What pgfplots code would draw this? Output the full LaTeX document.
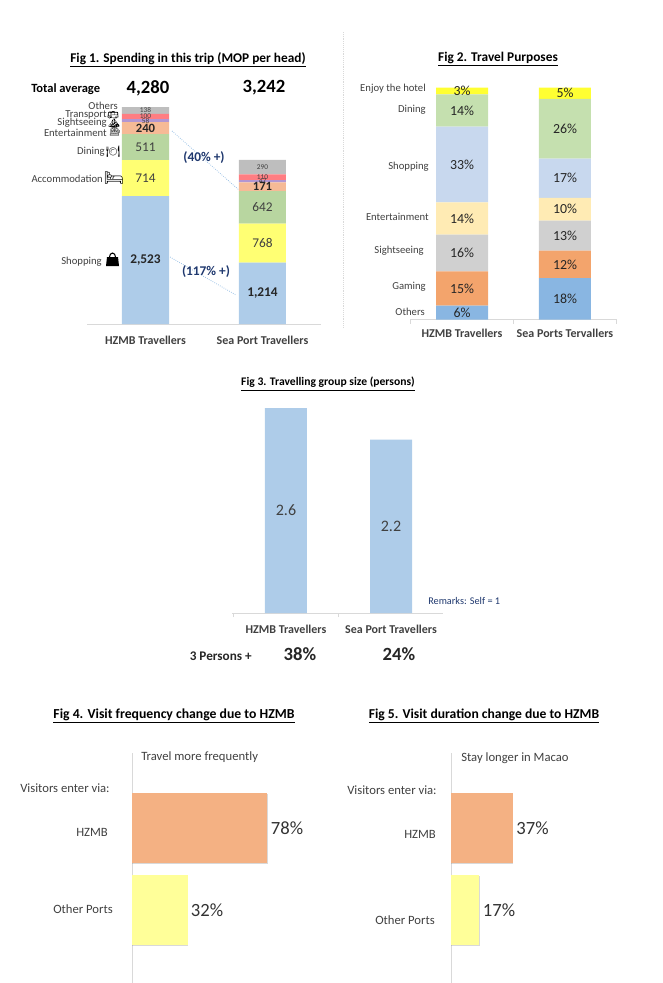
\documentclass[border=0pt]{standalone}
\usepackage{fontspec}
\setmainfont{Carlito}
\newfontfamily\emoji{Noto Emoji}
\usepackage{pgfplots}
\pgfplotsset{compat=1.18}
\usetikzlibrary{shadows}

\definecolor{axisgray}{RGB}{217,217,217}
\definecolor{labelgray}{RGB}{64,64,64}
\definecolor{navy}{RGB}{31,56,110}
\definecolor{blueA}{RGB}{174,204,233}
\definecolor{yellowA}{RGB}{255,255,115}
\definecolor{greenA}{RGB}{184,214,160}
\definecolor{orangeA}{RGB}{246,186,150}
\definecolor{purpleA}{RGB}{178,150,210}
\definecolor{redA}{RGB}{255,125,130}
\definecolor{grayA}{RGB}{190,190,190}
\definecolor{blueB}{RGB}{137,182,226}
\definecolor{orangeB}{RGB}{243,164,108}
\definecolor{grayB}{RGB}{208,208,208}
\definecolor{creamB}{RGB}{255,235,180}
\definecolor{paleB}{RGB}{200,216,238}
\definecolor{greenB}{RGB}{197,224,175}
\definecolor{yellowB}{RGB}{255,255,50}
\definecolor{orangeC}{RGB}{244,177,131}
\definecolor{yellowC}{RGB}{255,255,153}
\definecolor{dotblue}{RGB}{157,195,230}

\pgfkeys{/pgf/number format/.cd,1000 sep={,},assume math mode=true}

\pgfplotsset{
  base/.style={
    scale only axis,
    anchor=south west,
    axis y line=none,
    axis x line*=bottom,
    axis line style={axisgray,-},
    xtick=data,
    tick align=outside,
    major tick length=0pt,
    x tick label style={font=\fontsize{9}{9}\selectfont\bfseries,text=labelgray},
    ymin=0,
    xmin=-0.5, xmax=1.5,
    clip=false,
  },
  stackbars/.style={
    base,
    ybar stacked,
    visualization depends on={rawy \as \rawy},
    point meta=rawy,
    nodes near coords,
    nodes near coords style={anchor=center},
  },
  seg/.style n args={3}{
    fill=#1, draw=none,
    nodes near coords style={font=\fontsize{#2}{#2}\selectfont#3},
  },
  sidebars/.style={
    scale only axis,
    anchor=south west,
    xbar,
    bar shift=0pt,
    bar width=52.5pt,
    axis x line=none,
    axis y line*=left,
    axis line style={axisgray,-},
    ytick=\empty,
    xmin=0,
    ymin=-0.879, ymax=1.909,
    clip=false,
    nodes near coords={\pgfmathprintnumber{\pgfplotspointmeta}\%},
    nodes near coords style={font=\fontsize{14}{14}\selectfont,text=black!80,xshift=-1pt},
    point meta=x,
  },
  boxshadow/.style={drop shadow={shadow xshift=0.25pt,shadow yshift=-0.6pt,fill=gray,opacity=0.3}},
  darktext/.style={nodes near coords style={text=black!85}},
  graytext/.style={nodes near coords style={text=labelgray}},
}

\begin{document}
\begin{tikzpicture}[x=0.75pt,y=-0.75pt]
\useasboundingbox (0,0) rectangle (662,983);

% divider between fig 1 and 2
\draw[axisgray,densely dotted] (343,32) -- (343,327);

% Fig 1
\draw[dotblue,densely dotted,line width=0.6pt] (172,131) -- (239,190);
\draw[dotblue,densely dotted,line width=0.6pt] (170,257) -- (236,295);
\begin{axis}[stackbars, at={(87*0.75pt,-324*0.75pt)}, width=175.5pt, height=162.75pt,
  ymax=4284, bar width=35.25pt, xticklabels={HZMB Travellers,Sea Port Travellers},
  xticklabel style={yshift=-5.5pt}]
\addplot+[seg={blueA}{10}{\bfseries},darktext] coordinates {(0,2523) (1,1214)};
\addplot+[seg={yellowA}{10}{},graytext] coordinates {(0,714) (1,768)};
\addplot+[seg={greenA}{10}{},graytext] coordinates {(0,511) (1,642)};
\addplot+[seg={orangeA}{9.5}{\bfseries},darktext] coordinates {(0,240) (1,171)};
\addplot+[seg={purpleA}{5.5}{},graytext] coordinates {(0,58) (1,47)};
\addplot+[seg={redA}{5.5}{},graytext] coordinates {(0,100) (1,110)};
\addplot+[seg={grayA}{5.5}{},graytext] coordinates {(0,138) (1,290)};
\end{axis}

\node[font=\fontsize{10}{10}\selectfont\bfseries] at (188,60) {\underline{Fig 1. Spending in this trip (MOP per head)}};
\node[font=\fontsize{9.4}{9.4}\selectfont\bfseries,anchor=west,inner sep=0pt] at (31,89) {Total average};
\node[font=\fontsize{14}{14}\selectfont\bfseries] at (148,88) {4,280};
\node[font=\fontsize{14}{14}\selectfont\bfseries] at (264,88) {3,242};
\node[font=\fontsize{10}{10}\selectfont\bfseries,text=navy] at (204,158) {(40\% +)};
\node[font=\fontsize{10}{10}\selectfont\bfseries,text=navy] at (206,272) {(117\% +)};
\begin{scope}[font=\fontsize{8}{8}\selectfont,text=labelgray,every node/.style={anchor=east,inner sep=0pt}]
  \node at (118,106) {Others};
  \node at (107,115) {Transport};
  \node at (107,123) {Sightseeing};
  \node at (107,133) {Entertainment};
  \node at (105,152) {Dining};
  \node at (103,179) {Accommodation};
  \node at (102,262) {Shopping};
\end{scope}
\begin{scope}[every node/.style={inner sep=0pt,text=black}]
  \node[font=\emoji\fontsize{7}{7}\selectfont] at (113,115) {🚌};
  \node[font=\emoji\fontsize{7}{7}\selectfont] at (114,123) {⛰};
  \node[font=\emoji\fontsize{7}{7}\selectfont] at (115,131) {🎰};
  \node[font=\emoji\fontsize{8.5}{8.5}\selectfont] at (113,152) {🍽};
  \node[font=\emoji\fontsize{12}{12}\selectfont] at (114,178) {🛏};
  \fill (106,266) -- (107,257) -- (118,257) -- (119,266) -- cycle;
  \draw[line width=0.8pt] (109.5,257) arc[start angle=180,end angle=360,x radius=3,y radius=4];
\end{scope}

% Fig 2
\begin{axis}[stackbars, at={(410*0.75pt,-319.5*0.75pt)}, width=155.25pt, height=174pt,
  ymax=101, bar width=39pt, xmin=-0.505, xmax=1.505,
  xticklabels={HZMB Travellers,Sea Ports Tervallers},
  xticklabel style={yshift=-4pt},
  minor xtick={-0.5,0.5,1.5}, minor tick length=3pt, minor x tick style={axisgray},
  nodes near coords={\pgfmathprintnumber{\rawy}\%}]
\addplot+[seg={blueB}{10.4}{},darktext] coordinates {(0,6) (1,18)};
\addplot+[seg={orangeB}{10.4}{},darktext] coordinates {(0,15) (1,12)};
\addplot+[seg={grayB}{10.4}{},darktext] coordinates {(0,16) (1,13)};
\addplot+[seg={creamB}{10.4}{},darktext] coordinates {(0,14) (1,10)};
\addplot+[seg={paleB}{10.4}{},darktext] coordinates {(0,33) (1,17)};
\addplot+[seg={greenB}{10.4}{},darktext] coordinates {(0,14) (1,26)};
\addplot+[seg={yellowB}{10.4}{},darktext] coordinates {(0,3) (1,5)};
\end{axis}

\node[font=\fontsize{10}{10}\selectfont\bfseries] at (498,59) {\underline{Fig 2. Travel Purposes}};
\begin{scope}[font=\fontsize{8}{8}\selectfont,text=labelgray,every node/.style={anchor=east,inner sep=0pt}]
  \node at (426,89) {Enjoy the hotel};
  \node at (426,110) {Dining};
  \node at (429,167) {Shopping};
  \node at (429,217) {Entertainment};
  \node at (424,251) {Sightseeing};
  \node at (426,287) {Gaming};
  \node at (425,312) {Others};
\end{scope}

% Fig 3
\begin{axis}[stackbars, at={(232*0.75pt,-613*0.75pt)}, width=158.25pt, height=153.75pt,
  ymax=2.6, bar width=31.5pt, xmin=-0.514, xmax=1.495,
  xticklabels={HZMB Travellers,Sea Port Travellers},
  xticklabel style={yshift=-5.5pt},
  minor xtick={-0.5,0.5,1.5}, minor tick length=3pt, minor x tick style={axisgray}]
\addplot+[seg={blueA}{12}{},graytext] coordinates {(0,2.6) (1,2.2)};
\end{axis}

\node[font=\fontsize{8.7}{8.7}\selectfont\bfseries] at (328,384) {\underline{Fig 3. Travelling group size (persons)}};
\node[font=\fontsize{7.7}{7.7}\selectfont,text=navy,anchor=west,inner sep=0pt] at (428,601) {Remarks: Self = 1};
\node[font=\fontsize{9.9}{9.9}\selectfont\bfseries,text=black!85,anchor=east,inner sep=0pt] at (252,656) {3 Persons +};
\node[font=\fontsize{14}{14}\selectfont\bfseries,text=black!85] at (300,654) {38\%};
\node[font=\fontsize{14}{14}\selectfont\bfseries,text=black!85] at (399,654) {24\%};

% Fig 4
\begin{axis}[sidebars, at={(132*0.75pt,-983*0.75pt)}, width=101.6pt, height=172.5pt, xmax=78]
\addplot+[fill=orangeC,draw=none,boxshadow] coordinates {(78,1)};
\addplot+[fill=yellowC,draw=none,boxshadow] coordinates {(32,0)};
\end{axis}

\node[font=\fontsize{10.3}{10.3}\selectfont\bfseries] at (174,716) {\underline{Fig 4. Visit frequency change due to HZMB}};
\begin{scope}[font=\fontsize{9.5}{9.5}\selectfont,text=labelgray,every node/.style={anchor=west,inner sep=0pt}]
  \node at (141,757) {Travel more frequently};
  \node at (20,788) {Visitors enter via:};
  \node at (76,832) {HZMB};
  \node at (53,909) {Other Ports};
\end{scope}

% Fig 5
\begin{axis}[sidebars, at={(451*0.75pt,-983*0.75pt)}, width=46.5pt, height=172.5pt, xmax=37]
\addplot+[fill=orangeC,draw=none,boxshadow] coordinates {(37,1)};
\addplot+[fill=yellowC,draw=none,boxshadow] coordinates {(17,0)};
\end{axis}

\node[font=\fontsize{10.2}{10.2}\selectfont\bfseries] at (484,716) {\underline{Fig 5. Visit duration change due to HZMB}};
\begin{scope}[font=\fontsize{9.5}{9.5}\selectfont,text=labelgray,every node/.style={anchor=west,inner sep=0pt}]
  \node at (461,758) {Stay longer in Macao};
  \node at (347,790) {Visitors enter via:};
  \node at (404,834) {HZMB};
  \node at (375,920) {Other Ports};
\end{scope}
\end{tikzpicture}
\end{document}
